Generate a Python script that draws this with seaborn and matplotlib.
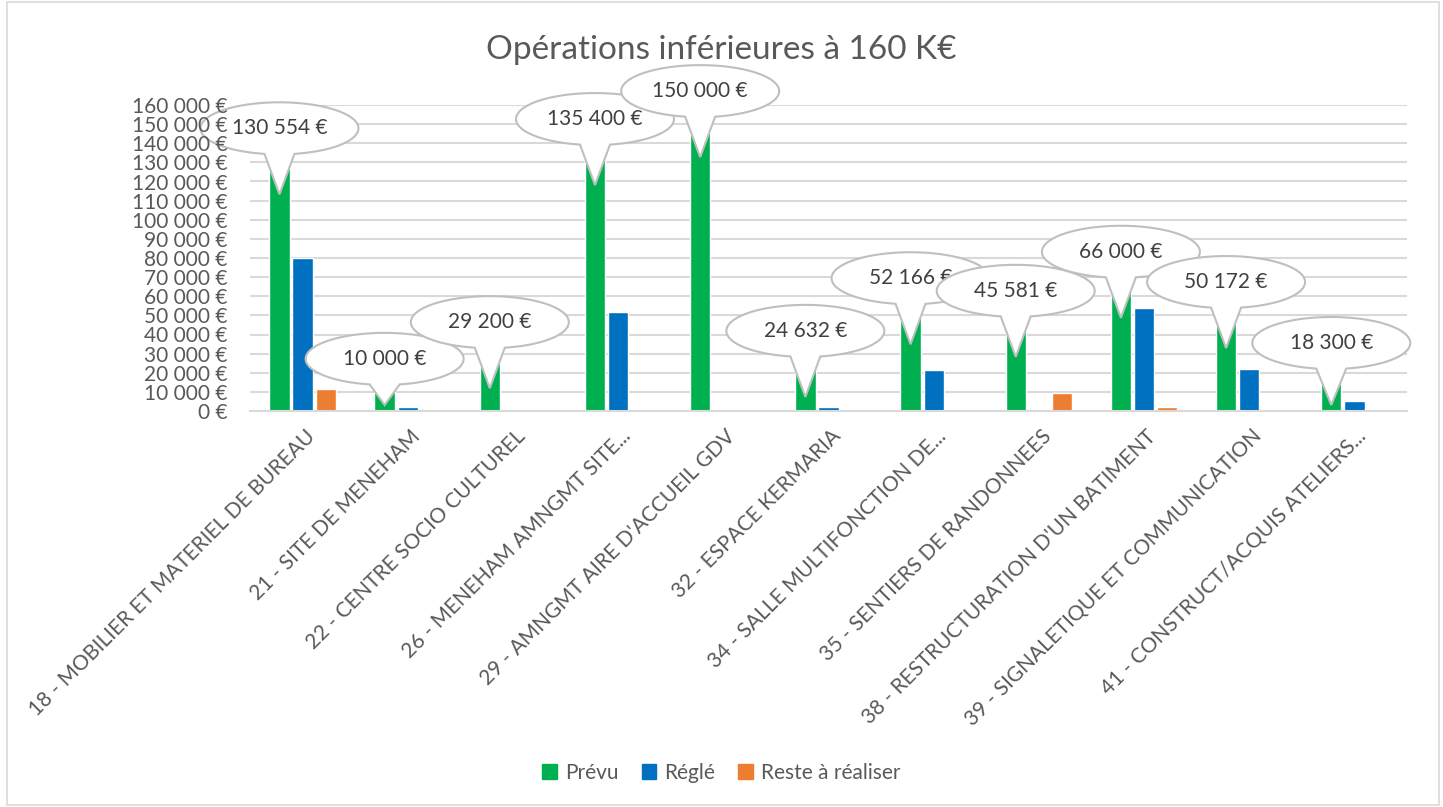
import numpy as np
import pandas as pd
import matplotlib
matplotlib.use("Agg")
import matplotlib.pyplot as plt
import seaborn as sns
from matplotlib.patches import Polygon, Rectangle
import matplotlib.transforms as mtrans

categories = [
    "18 - MOBILIER ET MATERIEL DE BUREAU",
    "21 - SITE DE MENEHAM",
    "22 - CENTRE SOCIO CULTUREL",
    "26 - MENEHAM AMNGMT SITE...",
    "29 - AMNGMT AIRE D'ACCUEIL GDV",
    "32 - ESPACE KERMARIA",
    "34 - SALLE MULTIFONCTION DE...",
    "35 - SENTIERS DE RANDONNEES",
    "38 - RESTRUCTURATION D'UN BATIMENT",
    "39 - SIGNALETIQUE ET COMMUNICATION",
    "41 - CONSTRUCT/ACQUIS ATELIERS...",
]
prevu = [130554, 10000, 29200, 135400, 150000, 24632, 52166, 45581, 66000, 50172, 18300]
regle = [80000, 2000, 0, 52000, 0, 2000, 21500, 0, 54000, 22100, 5300]
reste = [11500, 800, 0, 0, 0, 0, 300, 9300, 2000, 0, 0]
series = ["Prévu", "Réglé", "Reste à réaliser"]
colors = ["#00B050", "#0070C0", "#ED7D31"]
yticks = list(range(0, 160001, 10000))

def euro(v):
    return f"{v:,.0f}".replace(",", " ") + " €"

df = pd.DataFrame({
    "cat": categories * 3,
    "serie": [series[0]] * 11 + [series[1]] * 11 + [series[2]] * 11,
    "val": prevu + regle + reste,
})

sns.set_theme(style="white")
plt.rcParams["font.family"] = ["Lato", "DejaVu Sans"]
TXT = "#595959"

fig = plt.figure(figsize=(14.43, 8.07), dpi=100)
fig.patch.set_facecolor("white")
pos = [250 / 1443, 1 - 411 / 807, (1407 - 250) / 1443, (411 - 105) / 807]
ax = fig.add_axes(pos)

sns.barplot(data=df, x="cat", y="val", hue="serie", palette=colors,
            width=0.66, gap=0.12, ax=ax, legend=False, saturation=1)

ax.set_ylim(0, 160000)
ax.set_xlim(-0.5, len(categories) - 0.5)
ax.set_yticks(yticks)
ax.tick_params(axis="y", length=0, labelleft=False)
ax.tick_params(axis="x", length=0, pad=8)
ax.set_xticks(range(len(categories)))
ax.set_xticklabels(categories, rotation=45, ha="right", rotation_mode="anchor",
                   fontsize=15, color=TXT)
offset = mtrans.ScaledTranslation(2 / 100, -4 / 100, fig.dpi_scale_trans)
for lab in ax.get_xticklabels():
    lab.set_transform(lab.get_transform() + offset)
ax.yaxis.grid(True, color="#D9D9D9", linewidth=1.5)
ax.set_axisbelow(True)
for s in ["top", "right", "left"]:
    ax.spines[s].set_visible(False)
ax.spines["bottom"].set_color("#D9D9D9")
ax.spines["bottom"].set_linewidth(1.5)
ax.set_xlabel("")
ax.set_ylabel("")

# overlay axes carrying the y tick labels above the callouts
axl = fig.add_axes(pos, zorder=ax.get_zorder() + 1)
axl.patch.set_visible(False)
for s in axl.spines.values():
    s.set_visible(False)
axl.set_ylim(0, 160000)
axl.set_xticks([])
axl.set_yticks(yticks)
axl.set_yticklabels([euro(v) for v in yticks], fontsize=15, color=TXT)
axl.tick_params(axis="y", length=0, pad=16)
axl.grid(False)

fig.text(0.5, 1 - 50 / 807, "Opérations inférieures à 160 K€", ha="center", va="center",
         fontsize=24, color=TXT)

# callouts
fig.canvas.draw()
inv = ax.transData.inverted()
nser = 3
slot = 0.66 / nser
a, b = 79, 26
for i, v in enumerate(prevu):
    xd = i - slot
    px, top = ax.transData.transform((xd, v))
    _, base = ax.transData.transform((xd, 0))
    cx, cy = px, top + 33
    tip_y = max(top - 33, base + 6)
    half = 15
    d = np.degrees(np.arccos(half / a))
    th2 = np.radians(-d)
    th1 = np.radians(-180 + d + 360)
    th = np.linspace(th2, th1, 120)
    pts = [(cx + a * np.cos(t), cy + b * np.sin(t)) for t in th]
    pts.append((px, tip_y))
    data_pts = inv.transform(np.array(pts))
    poly = Polygon(data_pts, closed=True, facecolor="white", edgecolor="#BFBFBF",
                   linewidth=1.5, clip_on=False, zorder=5 + i)
    ax.add_patch(poly)
    xt, yt = inv.transform((cx, cy))
    ax.text(xt, yt, euro(v), ha="center", va="center", fontsize=15, color="#404040",
            zorder=5 + i, clip_on=False)

handles = [Rectangle((0, 0), 1, 1, color=c) for c in colors]
fig.legend(handles, series, loc="center", bbox_to_anchor=(0.5, 1 - 773 / 807), ncol=3,
           frameon=False, fontsize=15, handlelength=0.7, handleheight=0.7,
           columnspacing=1.1, handletextpad=0.4, labelcolor=TXT)

fig.patches.append(Rectangle((7 / 1443, 2 / 807), 1432 / 1443, 803 / 807, transform=fig.transFigure,
                             fill=False, edgecolor="#D9D9D9", linewidth=1.2))

fig.savefig("out.png", dpi=100)
